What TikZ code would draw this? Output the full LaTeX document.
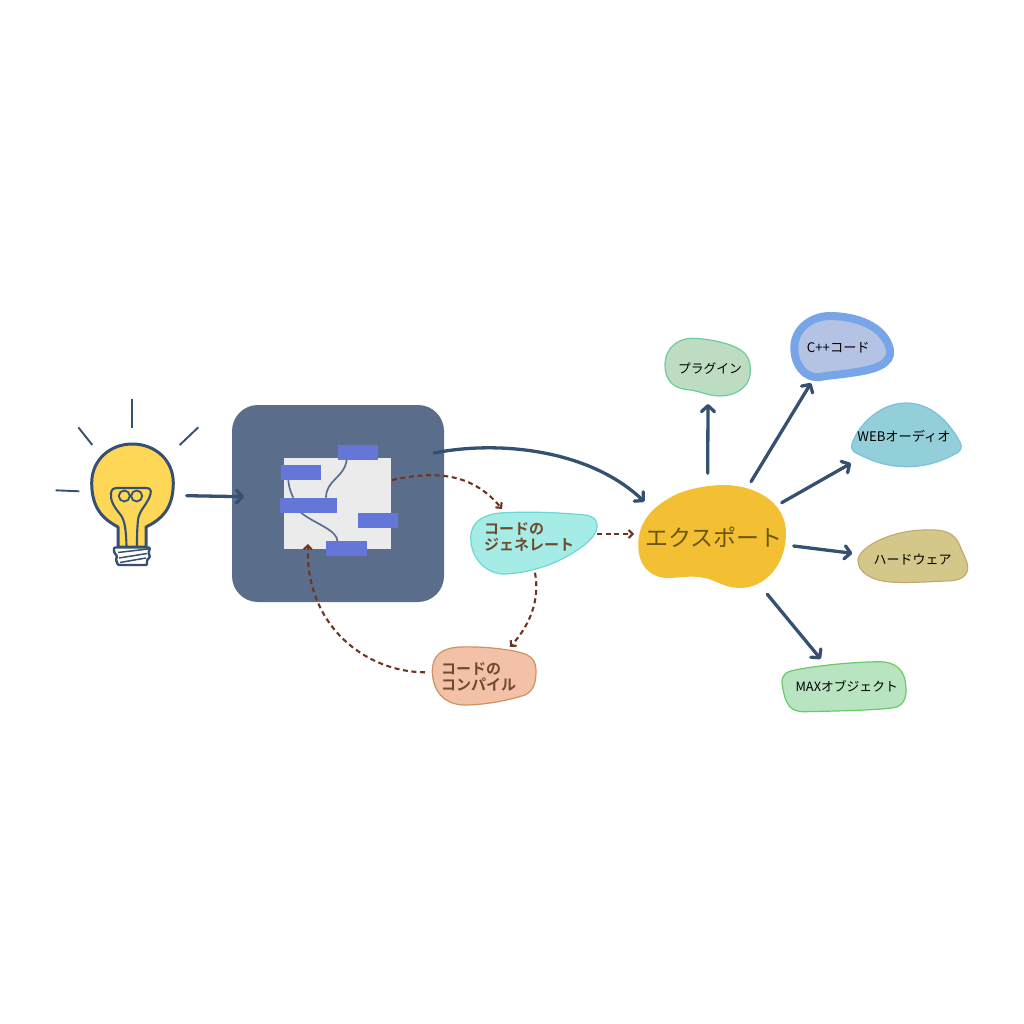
\documentclass[tikz,border=0pt]{standalone}
\usepackage{fontspec}
\setmainfont{Liberation Sans}
\newfontfamily\cjk{Noto Sans CJK JP}[BoldFont={Noto Sans CJK JP Bold}]
\usetikzlibrary{arrows.meta}
\definecolor{navy}{HTML}{355070}
\definecolor{panelc}{HTML}{5A6E8C}
\definecolor{brownc}{HTML}{6F3420}
\definecolor{tagc}{HTML}{6477D8}
\definecolor{bulbc}{HTML}{FFD757}
\definecolor{labelbrown}{HTML}{6E4A2F}
\tikzset{
  x=1pt,y=-1pt,
  bigarrow/.style={draw=navy,line width=3.3pt,line cap=round,-{Straight Barb[length=6pt,width=13pt,line width=3.3pt,round]}},
  dasharrow/.style={draw=brownc,line width=2.1pt,dash pattern=on 5pt off 3.6pt,-{Straight Barb[length=4pt,width=8pt,line width=2.1pt]}},
  ray/.style={draw=navy,line width=1.9pt},
  bulbline/.style={draw=navy,line width=2.4pt,line join=round},
  tagbox/.style={fill=tagc,draw=none,inner sep=0pt,minimum width=40.5pt,minimum height=15pt},
  wire/.style={draw=panelc,line width=1.7pt},
  blob/.style={line width=1.2pt},
  label/.style={inner sep=0pt,text=black,font=\cjk\fontsize{12.8}{14}\selectfont},
  boldlabel/.style={inner sep=0pt,text=labelbrown,align=left,font=\cjk\bfseries\fontsize{15}{17}\selectfont},
}
\begin{document}
\begin{tikzpicture}
\fill[white] (0,0) rectangle (1024,1024);
\useasboundingbox (0,0) rectangle (1024,1024);

% bulb rays
\coordinate (r1a) at (132.3,399); \coordinate (r1b) at (132.3,428);
\coordinate (r2a) at (78.3,427.3); \coordinate (r2b) at (92.3,445);
\coordinate (r3a) at (198.3,427.3); \coordinate (r3b) at (179.7,445);
\coordinate (r4a) at (55.7,490.3); \coordinate (r4b) at (79.3,491.3);
\draw[ray] (r1a)--(r1b);
\draw[ray] (r2a)--(r2b);
\draw[ray] (r3a)--(r3b);
\draw[ray] (r4a)--(r4b);

% bulb
\path[bulbline,line width=3pt,fill=bulbc] (118,547) -- (118,527)
  .. controls (105,520) and (91.7,510) .. (91.7,483)
  .. controls (91.7,460) and (110,444) .. (132.3,444)
  .. controls (155,444) and (173.3,460) .. (173.3,483)
  .. controls (173.3,510) and (160,520) .. (146,527) -- (146,547) -- cycle;
\draw[bulbline,line width=2.1pt] (126.5,546) .. controls (126,530) and (125,520) .. (120,514)
  .. controls (114,507) and (110,500) .. (111,493) .. controls (111.5,489) and (114,488) .. (118,488)
  -- (146,488) .. controls (150,488) and (151.5,490) .. (150.5,494)
  .. controls (148,504) and (139,510) .. (138,520) .. controls (137,530) and (137,538) .. (137,546);
\draw[bulbline,line width=1.8pt] (124.3,496) circle (5.5) (136.7,496) circle (5.5);
\draw[bulbline,fill=white,rounded corners=1pt] (114,547.5)--(150,547.5)--(148.5,553)--(150,557)--(147,560)--(147,565)--(118,565)--(116,560)--(117,556)--(114,552)--cycle;
\draw[bulbline,line width=1.5pt] (118,552.5)--(148,549) (119,558)--(147,553.5) (120,562.5)--(146,558);

% panel
\node[fill=panelc,draw=none,rounded corners=26pt,minimum width=212pt,minimum height=197pt,inner sep=0pt] (panel) at (338,503.5) {};
\fill[black!8] (284.3,458) rectangle (391.3,549.3);

% wires
\draw[wire] (346.7,460) .. controls (344,478) and (326,480) .. (326,497.7);
\draw[wire] (288.3,480) .. controls (289,488) and (291,493) .. (293.3,497.7);
\draw[wire] (301,512.7) .. controls (315,524) and (338,530) .. (337.5,542);
\node[tagbox] (t1) at (357.8,452.3) {};
\node[tagbox] (t2) at (300.8,472.3) {};
\node[tagbox,minimum width=57.3pt] (t3) at (308.7,505.2) {};
\node[tagbox] (t4) at (378.2,520.2) {};
\node[tagbox] (t5) at (346.5,548.5) {};

% blobs
\path[blob,fill={rgb,255:red,166;green,236;blue,230},draw={rgb,255:red,108;green,214;blue,214}]
  (470.7,538) .. controls (471,522) and (482,515) .. (500,513) .. controls (530,511) and (565,513) .. (585,515) .. controls (594,516) and (598,521) .. (597,527) .. controls (596,538) and (580,550) .. (560,560) .. controls (540,570) and (515,574) .. (503,574) .. controls (485,573) and (471,558) .. (470.7,538) -- cycle;
\path[blob,fill={rgb,255:red,243;green,193;blue,168},draw={rgb,255:red,208;green,146;blue,96}]
  (432.3,672) .. controls (432,655) and (442,648) .. (460,647) .. controls (485,646) and (515,650) .. (525,654) .. controls (533,657) and (536,663) .. (536,670) .. controls (536,680) and (535,690) .. (525,695) .. controls (510,700) and (485,705) .. (465,705) .. controls (445,705) and (433,692) .. (432.3,672) -- cycle;
\path[fill={rgb,255:red,243;green,192;blue,51}]
  (638.3,545) .. controls (638,520) and (655,505) .. (675,495) .. controls (690,488) and (710,485) .. (725,485) .. controls (760,486) and (786,505) .. (786,533) .. controls (786,565) and (765,588) .. (740,588) .. controls (725,588) and (715,580) .. (705,578) .. controls (690,575) and (680,578) .. (668,578) .. controls (650,578) and (638,565) .. (638.3,545) -- cycle;
\path[blob,fill={rgb,255:red,189;green,220;blue,193},draw={rgb,255:red,111;green,203;blue,159}]
  (665,365) .. controls (665,348) and (678,338) .. (693,338.3) .. controls (712,339) and (733,344) .. (742,351) .. controls (750,357) and (751,366) .. (750,375) .. controls (748,388) and (735,396) .. (720,396) .. controls (708,396) and (700,391) .. (690,390) .. controls (675,389) and (665,382) .. (665,365) -- cycle;
\path[line width=8pt,fill={rgb,255:red,180;green,195;blue,228},draw={rgb,255:red,118;green,165;blue,232}]
  (794.3,346.7) .. controls (795,328) and (812,316) .. (830,316) .. controls (854,316) and (885,325) .. (890,350) .. controls (892,364) and (875,370) .. (850,373) .. controls (838,375) and (830,375) .. (820,377) .. controls (805,379) and (794,365) .. (794.3,346.7) -- cycle;
\path[blob,fill={rgb,255:red,146;green,207;blue,216},draw={rgb,255:red,127;green,191;blue,224}]
  (852,444) .. controls (858,425) and (880,403) .. (906,403) .. controls (930,403) and (948,420) .. (960,442) .. controls (963,448) and (960,452) .. (955,454) .. controls (940,462) and (925,466.7) .. (906.7,466.7) .. controls (885,466.7) and (870,460) .. (856,453) .. controls (852,451) and (851,448) .. (852,444) -- cycle;
\path[blob,fill={rgb,255:red,211;green,200;blue,138},draw={rgb,255:red,200;green,168;blue,112}]
  (858,560) .. controls (860,545) and (895,530) .. (925,530) .. controls (945,529) and (955,533) .. (960,546) .. controls (964,556) and (968,562) .. (967.7,568) .. controls (967,578) and (958,581) .. (945,581) .. controls (925,582) and (905,583) .. (890,582) .. controls (870,580) and (858,572) .. (858,560) -- cycle;
\path[blob,fill={rgb,255:red,184;green,228;blue,194},draw={rgb,255:red,102;green,204;blue,102}]
  (782,683) .. controls (782,675) and (785,672) .. (795,670) .. controls (815,666) and (850,662) .. (880,661.7) .. controls (895,661.7) and (903,670) .. (905,680) .. controls (907,692) and (907,702) .. (897,707) .. controls (885,710) and (840,711) .. (805,711.7) .. controls (790,712) and (785,705) .. (782,683) -- cycle;

% labels
\node[boldlabel,anchor=west] (gen) at (484,537) {コードの\\[-1pt]ジェネレート};
\node[boldlabel,anchor=west] (comp) at (441,676.5) {コードの\\[-1pt]コンパイル};
\node[label,text={rgb,255:red,107;green,85;blue,19},font=\cjk\fontsize{23}{26}\selectfont] (export) at (714,537) {エクスポート};
\node[label] (plug) at (710,369) {プラグイン};
\node[label] (cpp) at (838.3,348) {\fontsize{13.2}{15}\selectfont C++コード};
\node[label] (web) at (904,436.7) {\fontsize{13.2}{15}\selectfont WEBオーディオ};
\node[label] (hw) at (912.7,559.5) {\fontsize{13}{15}\selectfont ハードウェア};
\node[label] (max) at (846.7,686.7) {\fontsize{12.8}{15}\selectfont MAXオブジェクト};

% connector ends
\coordinate (bulbOut) at (186.7,495.7); \coordinate (panelIn) at (244,496.7);
\coordinate (panelOut) at (434,453); \coordinate (exportIn) at (644.3,501.7);
\coordinate (a1) at (707.7,473.3); \coordinate (b1) at (708,404);
\coordinate (a2) at (751,481.7); \coordinate (b2) at (811,383);
\coordinate (a3) at (781.7,502.7); \coordinate (b3) at (851,463.3);
\coordinate (a4) at (793.7,546); \coordinate (b4) at (852.3,553.3);
\coordinate (a5) at (767.3,594.3); \coordinate (b5) at (820.7,659);
\coordinate (d1a) at (392,480); \coordinate (d1b) at (502,509);
\coordinate (d2a) at (535,572.7); \coordinate (d2b) at (510,647);
\coordinate (d3a) at (425,672.3); \coordinate (d3b) at (308,544);
\coordinate (d4a) at (597,534); \coordinate (d4b) at (634,534);

\draw[bigarrow] (bulbOut)--(panelIn);
\draw[bigarrow] (panelOut) .. controls (500,440) and (590,450) .. (exportIn);
\draw[bigarrow] (a1)--(b1);
\draw[bigarrow] (a2)--(b2);
\draw[bigarrow] (a3)--(b3);
\draw[bigarrow] (a4)--(b4);
\draw[bigarrow] (a5)--(b5);
\draw[dasharrow] (d1a) .. controls (430,472) and (470,470) .. (d1b);
\draw[dasharrow] (d2a) .. controls (540,600) and (530,625) .. (d2b);
\draw[dasharrow] (d3a) .. controls (365,672) and (305,625) .. (d3b);
\draw[dasharrow] (d4a)--(d4b);
\end{tikzpicture}
\end{document}
